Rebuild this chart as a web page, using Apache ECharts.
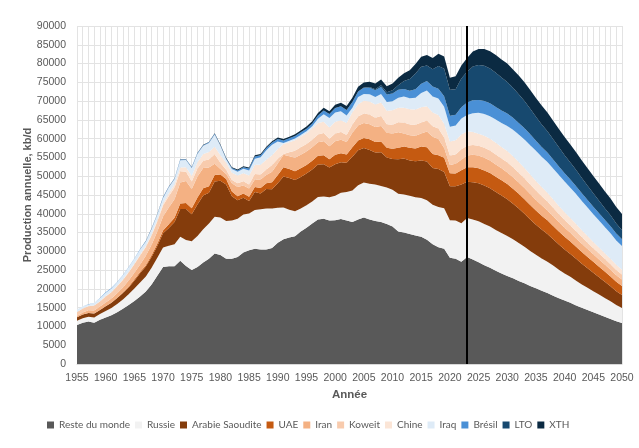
<!DOCTYPE html>
<html>
<head>
<meta charset="utf-8">
<script src="https://cdn.jsdelivr.net/npm/echarts@6/dist/echarts.min.js"></script>
<style>
html,body{margin:0;padding:0;background:#fff;}
#chart{width:639px;height:448px;}
</style>
</head>
<body>
<div id="chart"></div>
<script>
const years = [1955,1956,1957,1958,1959,1960,1961,1962,1963,1964,1965,1966,1967,1968,1969,1970,1971,1972,1973,1974,1975,1976,1977,1978,1979,1980,1981,1982,1983,1984,1985,1986,1987,1988,1989,1990,1991,1992,1993,1994,1995,1996,1997,1998,1999,2000,2001,2002,2003,2004,2005,2006,2007,2008,2009,2010,2011,2012,2013,2014,2015,2016,2017,2018,2019,2020,2021,2022,2023,2024,2025,2026,2027,2028,2029,2030,2031,2032,2033,2034,2035,2036,2037,2038,2039,2040,2041,2042,2043,2044,2045,2046,2047,2048,2049,2050];

const resteDuMonde = [10400,11000,11300,11000,11800,12400,13000,13800,14700,15700,16800,18000,19300,21200,23500,25800,26000,26000,27500,26100,25000,25800,27000,28000,29400,29000,28000,28000,28500,29700,30300,30700,30500,30500,30900,32300,33200,33700,34000,35300,36300,37400,38500,38700,38200,38300,38600,38200,37800,38500,39000,38500,38100,37800,37300,36600,35300,35000,34600,34200,33900,33100,31900,31100,30700,28300,28000,27200,28500,27800,27100,26300,25600,24800,24100,23400,22800,22100,21500,20800,20200,19500,18900,18200,17500,16900,16300,15600,15000,14400,13800,13200,12600,12000,11400,10900];
const russie = [1100,1200,1300,1400,1500,1700,1900,2200,2500,2900,3300,3700,4000,4400,4800,5200,5500,5900,6400,6900,7700,8300,8900,9400,9800,10000,10100,10200,10200,10100,9800,10300,10700,10900,10500,9300,8500,7400,6700,6100,6000,5900,6000,5900,6200,6500,7000,7600,8400,9100,9300,9500,9700,9600,9700,9800,10000,10100,10200,10200,10300,10500,10500,10700,10800,10000,10200,10300,10400,10700,10900,11000,11000,10900,10800,10700,10400,10100,9700,9300,8900,8600,8300,8000,7600,7200,6900,6600,6200,5900,5600,5300,5000,4700,4300,4000];
const arabieSaoudite = [950,980,990,1020,1100,1250,1400,1550,1700,1800,2100,2450,2650,2900,3100,3800,4700,5900,7400,8300,7200,8400,9000,8200,9400,9800,9700,6500,4900,4500,3300,4800,4200,5200,5100,6500,8200,8400,8300,8400,8400,8500,8600,8600,7900,8400,8100,7800,9000,9300,9200,9000,8500,9000,8000,8200,9200,9600,9400,9600,10000,10300,9800,10100,9600,9000,9100,10300,9600,9900,10100,10200,10200,10100,10000,9800,9500,9200,8800,8400,8000,7700,7400,7000,6700,6400,6100,5800,5500,5200,4900,4600,4300,4000,3700,3500];
const uae = [0,0,0,0,0,0,0,20,50,180,270,340,370,480,600,750,1000,1150,1450,1600,1600,1850,1900,1750,1750,1650,1450,1200,1100,1100,1150,1350,1450,1550,1900,2200,2500,2400,2300,2300,2300,2300,2350,2400,2250,2500,2400,2200,2500,2600,2700,2850,2800,2850,2550,2700,3100,3200,3400,3400,3700,3800,3700,3700,3800,3500,3400,3800,3900,4000,4000,4050,4050,4050,4000,4000,3950,3900,3900,3850,3800,3700,3650,3550,3500,3400,3300,3200,3100,3000,2900,2800,2700,2600,2500,2400];
const iran = [330,530,700,800,900,1030,1150,1280,1420,1630,1820,2030,2480,2750,3300,3750,4450,4900,5600,5800,5100,5600,5400,5000,3000,1450,1350,2250,2400,2100,2200,2000,2300,2200,2800,3100,3300,3400,3600,3600,3600,3600,3600,3700,3400,3600,3600,3300,3900,4000,4000,4000,4000,4100,4000,4100,4100,3500,3300,3400,3500,4200,4600,4300,2600,2200,2600,2800,3100,3300,3400,3400,3350,3300,3200,3100,3050,3000,2950,2900,2800,2750,2650,2600,2500,2400,2350,2250,2200,2100,2000,1950,1900,1800,1750,1700];
const koweit = [1050,1050,1100,1330,1340,1600,1630,1850,2000,2180,2250,2370,2380,2470,2630,2890,3040,3140,2950,2470,2000,2090,1900,2090,2470,1660,1140,860,1050,1140,1050,1420,1330,1420,1800,1240,190,1050,1900,2000,2000,2000,2090,2180,2000,2090,2090,1900,2180,2370,2470,2560,2470,2660,2280,2280,2660,2900,2900,2900,2900,2950,2800,2800,2800,2550,2500,2800,2600,2600,2600,2650,2650,2650,2650,2700,2700,2650,2600,2550,2500,2400,2350,2250,2150,2050,1950,1900,1800,1700,1650,1550,1500,1450,1350,1300];
const chine = [20,25,30,45,75,100,105,115,130,170,220,280,270,290,420,570,750,850,1030,1250,1460,1650,1790,1980,2010,2010,1920,1940,2010,2180,2380,2490,2550,2600,2610,2630,2690,2700,2750,2780,2840,3010,3050,3050,3050,3100,3140,3180,3230,3320,3430,3490,3540,3620,3610,3880,3870,3950,4010,4040,4090,3800,3660,3610,3650,3710,3790,3900,3900,3500,3200,3200,3150,3100,3050,3000,2950,2850,2750,2650,2550,2450,2350,2250,2150,2050,1950,1900,1800,1750,1650,1600,1500,1450,1400,1300];
const iraq = [660,610,430,690,810,920,950,950,1100,1190,1240,1330,1170,1430,1440,1470,1620,1400,1920,1870,2150,2300,2230,2430,3300,2520,860,950,1050,1140,1330,1620,2000,2570,2750,2000,290,400,480,520,530,570,1140,2000,2470,2470,2380,2000,1240,1900,1800,1900,2000,2280,2330,2380,2660,2950,2950,3140,3800,4180,4280,4370,4560,3900,3900,4280,4300,5000,5600,5800,6000,6200,6400,6700,7000,7300,7600,7800,8000,8100,8200,8200,8200,8200,8100,8000,7800,7600,7400,7200,7000,6800,6500,6300];
const bresil = [5,10,30,50,65,80,95,90,95,90,90,115,145,160,170,165,170,165,170,175,175,170,160,165,170,185,215,260,330,460,550,580,570,560,600,630,630,630,650,680,700,780,840,980,1100,1230,1300,1450,1500,1490,1650,1740,1770,1840,1970,2070,2110,2050,2030,2280,2450,2520,2640,2600,2790,2940,2900,3010,3300,3400,3400,3400,3400,3350,3300,3300,3200,3100,3000,2900,2700,2600,2500,2400,2300,2200,2150,2100,2050,2000,2000,1950,1900,1900,1850,1800];
const lto = [0,0,0,0,0,0,0,0,0,0,0,0,0,0,0,0,0,0,0,0,0,0,0,0,0,0,0,0,0,0,0,0,0,0,0,0,0,0,0,0,0,0,0,0,0,0,0,0,0,0,100,200,300,450,600,850,1250,2100,3100,4200,4500,4100,4600,6100,7300,6900,6800,7600,8200,9000,9300,9400,9300,9100,8800,8400,8000,7600,7200,6800,6400,6000,5700,5400,5100,4800,4550,4300,4050,3800,3550,3350,3100,2900,2650,2400];
const xth = [0,0,0,0,0,0,0,0,0,0,0,0,30,40,45,50,55,60,70,80,90,100,110,130,160,180,190,200,230,250,280,300,320,350,370,400,420,450,480,520,560,600,650,700,750,850,950,1050,1150,1250,1300,1400,1500,1550,1650,1800,1950,2100,2300,2500,2700,2800,3000,3200,3300,3200,3400,3500,3700,4000,4300,4500,4600,4700,4800,4900,4900,5000,5000,5000,5000,5000,4950,4900,4900,4850,4800,4750,4700,4650,4600,4550,4500,4450,4400,4350];

const seriesNames = ['Reste du monde','Russie','Arabie Saoudite','UAE','Iran','Koweit','Chine','Iraq','Brésil','LTO','XTH'];
const seriesData = [resteDuMonde,russie,arabieSaoudite,uae,iran,koweit,chine,iraq,bresil,lto,xth];
const colors = ['#595959','#f2f2f2','#843c0c','#c55a11','#f4b183','#f8cbad','#fbe5d6','#deebf7','#4a90d6','#17496f','#0b2a42'];
const yTicks = {min:0, max:90000, interval:5000};
const verticalMarkYear = '2023';

const FONT = 'Liberation Sans';
const LEGEND_FONT = 'Lato';
const chart = echarts.init(document.getElementById('chart'), null, {renderer:'canvas'});

const series = seriesNames.map((name, i) => {
  const s = {
    name: name,
    type: 'line',
    stack: 'total',
    data: seriesData[i],
    symbol: 'none',
    showSymbol: false,
    lineStyle: {width: 0},
    areaStyle: {color: colors[i], opacity: 1},
    itemStyle: {color: colors[i]},
    emphasis: {disabled: true},
    z: 2
  };
  if (i === seriesNames.length - 1) {
    s.markLine = {
      silent: true,
      symbol: ['none','none'],
      label: {show: false},
      lineStyle: {color: '#000000', width: 2, type: 'solid'},
      data: [{xAxis: verticalMarkYear}],
      animation: false
    };
  }
  return s;
});

chart.setOption({
  animation: false,
  backgroundColor: '#ffffff',
  color: colors,
  grid: {left: 77, right: 17, top: 26, bottom: 84, containLabel: false},
  legend: {
    data: seriesNames,
    left: 42,
    top: 415,
    width: 600,
    icon: 'rect',
    itemWidth: 7,
    itemHeight: 7,
    itemGap: 5,
    textStyle: {fontFamily: LEGEND_FONT, fontSize: 10, color: '#595959'}
  },
  xAxis: {
    type: 'category',
    data: years.map(String),
    boundaryGap: false,
    name: 'Année',
    nameLocation: 'middle',
    nameGap: 25,
    nameMoveOverlap: false,
    nameTextStyle: {fontFamily: FONT, fontSize: 11.5, fontWeight: 'bold', color: '#595959'},
    axisLine: {show: true, lineStyle: {color: '#d9d9d9'}},
    axisTick: {show: false},
    axisLabel: {interval: 4, fontFamily: FONT, fontSize: 10.5, color: '#595959', margin: 9},
    splitLine: {show: true, interval: 0, lineStyle: {color: '#e3e3e3', width: 1}}
  },
  yAxis: {
    type: 'value',
    min: yTicks.min,
    max: yTicks.max,
    interval: yTicks.interval,
    name: 'Production annuelle, kb/d',
    nameLocation: 'middle',
    nameGap: 44,
    nameMoveOverlap: false,
    nameTextStyle: {fontFamily: FONT, fontSize: 11, fontWeight: 'bold', color: '#595959'},
    axisLine: {show: false},
    axisTick: {show: false},
    axisLabel: {fontFamily: FONT, fontSize: 10.5, color: '#595959', margin: 11, formatter: v => String(v)},
    splitLine: {show: true, lineStyle: {color: '#e3e3e3', width: 1}}
  },
  series: series
});
</script>
</body>
</html>
